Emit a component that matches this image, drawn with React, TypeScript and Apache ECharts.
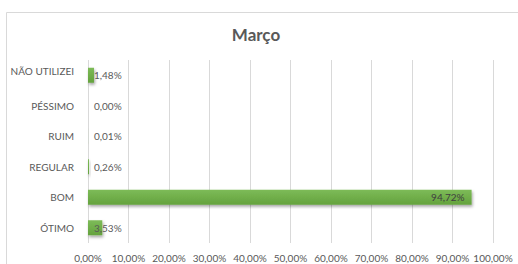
import React, { useEffect, useRef } from "react";
import * as echarts from "echarts";

const categories = ["NÃO UTILIZEI", "PÉSSIMO", "RUIM", "REGULAR", "BOM", "ÓTIMO"];
const values = [1.48, 0.0, 0.01, 0.26, 94.72, 3.53];
const titleText = "Março";

const FONT = "Lato, sans-serif";

const fmt = (v: number) => v.toFixed(2).replace(".", ",") + "%";

export default function App() {
  const ref = useRef<HTMLDivElement>(null);
  useEffect(() => {
    if (!ref.current) return;
    const chart = echarts.init(ref.current, undefined, { renderer: "svg" });
    const barColor = new echarts.graphic.LinearGradient(0, 0, 0, 1, [
      { offset: 0, color: "#7DBB58" },
      { offset: 1, color: "#64A23D" },
    ]);
    chart.setOption({
      animation: false,
      backgroundColor: "#ffffff",
      graphic: [
        {
          type: "rect",
          shape: { x: 6.5, y: 12.5, width: 530, height: 280 },
          style: { fill: "none", stroke: "#D9D9D9", lineWidth: 1 },
          silent: true,
        },
        {
          type: "text",
          x: 256,
          y: 34,
          style: {
            text: titleText,
            fontFamily: FONT,
            fontSize: 17,
            fontWeight: "bold",
            fill: "#595959",
            align: "center",
            verticalAlign: "middle",
          },
          silent: true,
        },
      ],
      grid: { left: 88, right: 25, top: 60, bottom: 21 },
      xAxis: {
        type: "value",
        min: 0,
        max: 100,
        interval: 10,
        axisLine: { show: false },
        axisTick: { show: false },
        splitLine: { show: true, lineStyle: { color: "#D9D9D9", width: 1 } },
        axisLabel: {
          margin: 10,
          fontFamily: FONT,
          fontSize: 10,
          color: "#595959",
          formatter: (v: number) => fmt(v),
        },
      },
      yAxis: {
        type: "category",
        inverse: true,
        data: categories,
        axisLine: { show: false },
        axisTick: { show: false },
        splitLine: { show: false },
        axisLabel: {
          margin: 14,
          fontFamily: FONT,
          fontSize: 10,
          color: "#595959",
          formatter: (v: string, i: number) => (i === 0 ? "{up|" + v + "}" : v),
          rich: {
            up: { fontFamily: FONT, fontSize: 10, color: "#595959", padding: [0, 0, 8, 0] },
          },
        },
      },
      series: [
        {
          type: "bar",
          barWidth: 15,
          data: values.map((v) => ({
            value: v,
            label: v > 20
              ? { position: "insideRight", distance: 7, color: "#404040" }
              : { position: "insideLeft", distance: 6, color: "#595959" },
          })),
          itemStyle: {
            color: barColor,
            shadowColor: "rgba(0,0,0,0.35)",
            shadowBlur: 3,
            shadowOffsetX: 1,
            shadowOffsetY: 2,
          },
          label: {
            show: true,
            fontFamily: FONT,
            fontSize: 10,
            formatter: (p: any) => fmt(p.value),
          },
        },
      ],
    });
    return () => chart.dispose();
  }, []);
  return (
    <div
      ref={ref}
      style={{ position: "fixed", left: 0, top: 0, width: 518, height: 264 }}
    />
  );
}
